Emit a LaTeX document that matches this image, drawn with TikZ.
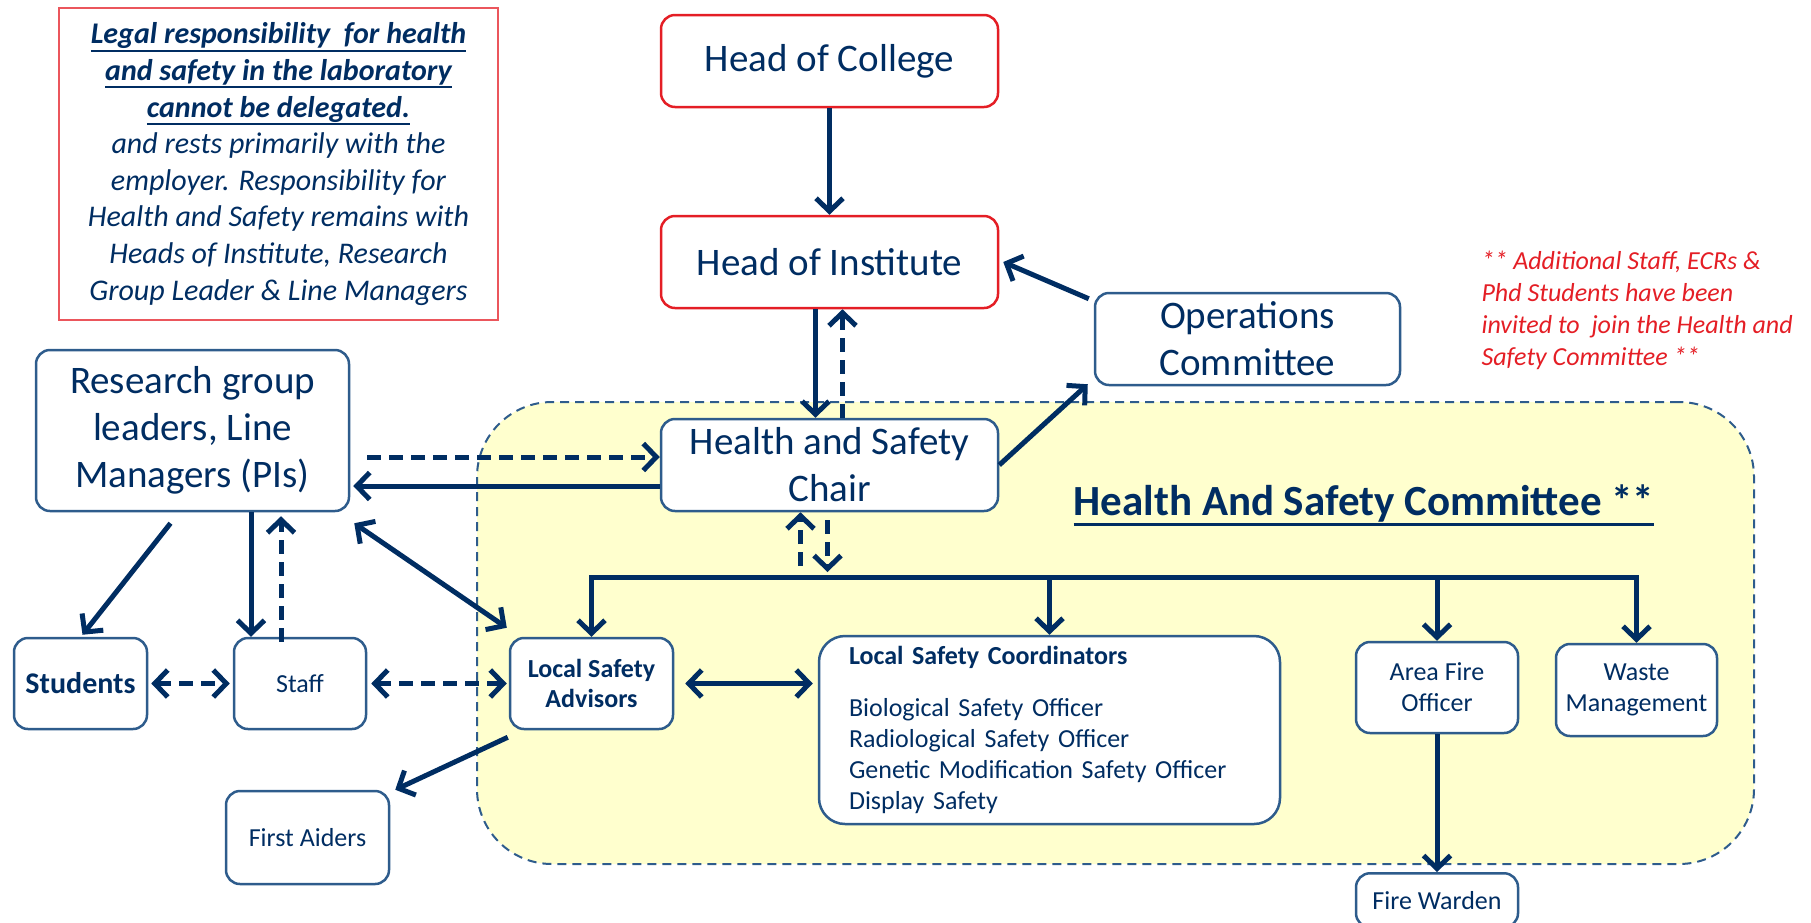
\documentclass[tikz,border=0pt]{standalone}
\usepackage{fontspec}
\setmainfont{Carlito}
\usetikzlibrary{positioning,calc,arrows.meta}

\definecolor{hsnavy}{RGB}{0,45,98}
\definecolor{hsline}{RGB}{46,92,140}
\definecolor{hsred}{RGB}{228,30,37}
\definecolor{hsyellow}{RGB}{255,255,206}

\newcommand{\hsfont}[2]{\fontsize{#1}{#2}\selectfont}
\newcommand{\hsuline}[2]{\vtop{\hbox{#2}\kern1pt\hrule height #1}}

\begin{document}
\begin{tikzpicture}[
  x=1pt, y=-1pt,
  >={Straight Barb[length=13pt,width=27pt]},
  bluebox/.style={
    rectangle,
    rounded corners=14pt,
    draw=hsline,
    line width=2.5pt,
    fill=white,
    text=hsnavy,
    inner sep=0pt,
    align=center
  },
  redbox/.style={
    bluebox,
    draw=hsred
  },
  bigtext/.style={font=\hsfont{39}{47}},
  smalltext/.style={font=\hsfont{26}{31}},
  committeebox/.style={
    rectangle,
    rounded corners=75pt,
    draw=hsline,
    line width=2pt,
    dash pattern=on 9pt off 6pt,
    fill=hsyellow,
    minimum width=1277pt,
    minimum height=462pt
  },
  link/.style={
    draw=hsnavy,
    line width=5pt,
    ->
  },
  dashlink/.style={
    link,
    dash pattern=on 14pt off 8pt
  }]
  \useasboundingbox (0,0) rectangle (1811,922);
  % committee area
  \node [committeebox] (committee) at (1115.5,633) {};
  \node [text=hsnavy, font=\hsfont{43}{50}\bfseries] (title) at (1364,505)
    {\hsuline{3pt}{Health And Safety Committee **}};
  % notes
  \node [rectangle, draw=hsred!75, line width=2pt, minimum width=439pt,
    minimum height=312pt, align=center, text=hsnavy,
    font=\hsfont{30}{36.6}\itshape] (legal) at (278.5,164)
    {\textbf{\hsuline{2pt}{Legal responsibility\ \ for health}}\\
     \textbf{\hsuline{2pt}{and safety in the laboratory}}\\
     \textbf{\hsuline{2pt}{cannot be delegated.}}\\
     and rests primarily with the\\
     employer. Responsibility for\\
     Health and Safety remains with\\
     Heads of Institute, Research\\
     Group Leader \& Line Managers};
  \node [anchor=west, align=left, text=hsred, font=\hsfont{26}{32}\itshape]
    (note) at (1478,310)
    {** Additional Staff, ECRs \&\\
     Phd Students have been\\
     invited to\ \ join the Health and\\
     Safety Committee **};
  % level 1
  \node [redbox, bigtext, minimum width=337pt, minimum height=92pt] (college) at (829.5,61) {Head of College};
  \node [redbox, bigtext, minimum width=337pt, minimum height=92pt] (institute) at (829.5,262) {Head of Institute};
  \node [bluebox, bigtext, minimum width=305pt, minimum height=92pt] (ops) at (1247.5,339) {Operations\\Committee};
  % level 2
  \node [bluebox, bigtext, minimum width=313pt, minimum height=161pt] (research) at (192.5,430.5) {Research group\\leaders, Line\\Managers (PIs)};
  \node [bluebox, bigtext, minimum width=337pt, minimum height=92pt] (chair) at (829.5,465) {Health and Safety\\Chair};
  % level 3
  \node [bluebox, font=\hsfont{30}{36}\bfseries, minimum width=133pt, minimum height=91pt] (students) at (80.5,683.5) {Students};
  \node [bluebox, smalltext, minimum width=132pt, minimum height=91pt] (staff) at (300,683.5) {Staff};
  \node [bluebox, font=\hsfont{26}{30}\bfseries, minimum width=163pt, minimum height=91pt] (lsa) at (591.5,683.5) {Local Safety\\Advisors};
  \node [bluebox, smalltext, rounded corners=26pt, align=left, text width=401pt,
    minimum width=461pt, minimum height=188pt] (lsc) at (1049.5,730)
    {\textbf{Local Safety Coordinators}\\[21pt]
     Biological Safety Officer\\
     Radiological Safety Officer\\
     Genetic Modification Safety Officer\\
     Display Safety};
  \node [bluebox, smalltext, minimum width=162pt, minimum height=91pt] (afo) at (1437,687.5) {Area Fire\\Officer};
  \node [bluebox, smalltext, minimum width=161pt, minimum height=92pt] (waste) at (1636.5,690) {Waste\\Management};
  % level 4
  \node [bluebox, smalltext, minimum width=163pt, minimum height=93pt] (first) at (307.5,837.5) {First Aiders};
  \node [bluebox, smalltext, anchor=north, minimum width=162pt, minimum height=54pt] (warden) at (1437,872) {Fire Warden};
  \coordinate (bus) at (829.5,577);

  % top
  \draw[link] (college) -- (institute);
  \draw[link] ([xshift=-14pt]institute.south) -- ([xshift=-14pt]chair.north);
  \draw[dashlink] ([xshift=13pt]chair.north) -- ([xshift=13pt]institute.south);
  \draw[link] ($(ops.north west)+(-5,7)$) -- ($(institute.east)+(4,0)$);
  \draw[link] (chair.east) -- ($(ops.south west)+(-6,-2)$);
  % research group
  \draw[dashlink] ($(research.east |- chair.west)+(17,-8)$) -- ([yshift=8pt]chair.west);
  \draw[link] ([yshift=-21pt]chair.west) -- ($(research.east |- chair.west)+(3,21)$);
  \draw[link] ($(research.south)+(-22,11)$) -- ($(students.north)+(2,-2)$);
  \draw[link] ([xshift=-49pt]staff.north |- research.south) -- ([xshift=-49pt]staff.north);
  \draw[dashlink] ([xshift=-19pt,yshift=-5pt]staff.north) -- ([xshift=-19pt,yshift=-4pt]staff.north |- research.south);
  \draw[link, <->] ($(research.south east)+(4,11)$) -- ($(lsa.north west)+(-2,-9)$);
  % bottom row
  \draw[dashlink, <->] ($(students.east)+(3,0)$) -- ($(staff.west)+(-3,0)$);
  \draw[dashlink, <->] ($(staff.east)+(4,0)$) -- ($(lsa.west)+(-2,0)$);
  \draw[link, <->] ($(lsa.east)+(11,0)$) -- ($(lsa.east -| lsc.west)+(-5,0)$);
  \draw[link] ($(lsa.south west)+(-1,7)$) -- ($(first.north east)+(5,0)$);
  \draw[link] (afo.south) -- (warden.north);
  % committee
  \draw[dashlink] ($(chair.south |- bus)+(-29,-11)$) -- ([xshift=-29pt]chair.south);
  \draw[dashlink] ([xshift=-2pt,yshift=-8pt]chair.south) -- ($(chair.south |- bus)+(-2,-5)$);
  \draw[draw=hsnavy, line width=5pt, line cap=rect] (lsa.north |- bus) -- (waste.north |- bus);
  \draw[link] (lsa.north |- bus) -- (lsa.north);
  \draw[link] (lsc.north |- bus) -- (lsc.north);
  \draw[link] (afo.north |- bus) -- (afo.north);
  \draw[link] (waste.north |- bus) -- (waste.north);
\end{tikzpicture}
\end{document}
